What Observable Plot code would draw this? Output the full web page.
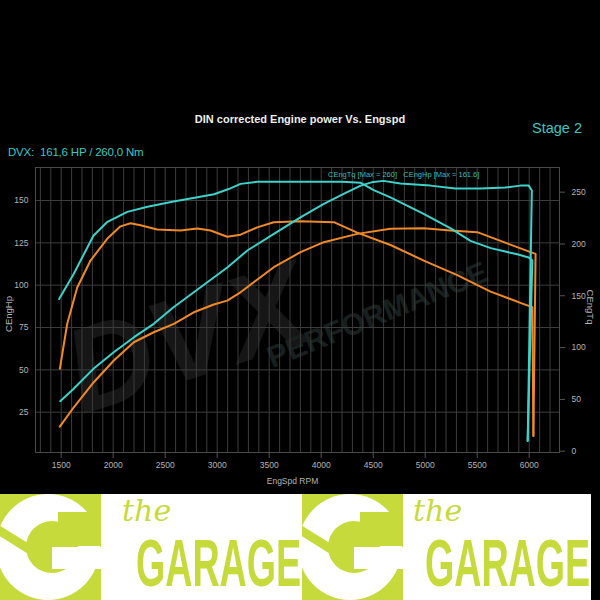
<!DOCTYPE html>
<html><head><meta charset="utf-8">
<script src="https://cdn.jsdelivr.net/npm/d3@7"></script>
<script src="https://cdn.jsdelivr.net/npm/@observablehq/plot@0.6"></script>
<style>
html,body{margin:0;padding:0;background:#000;}
body{width:600px;height:600px;position:relative;overflow:hidden;font-family:"Liberation Sans",Arial,sans-serif;}
.abs{position:absolute;white-space:nowrap;}
#title{left:0;width:600px;text-align:center;top:113px;color:#eee;font-weight:bold;font-size:11px;}
#stage{left:532px;top:120px;color:#3cc8c0;font-size:14.5px;}
#dvx{left:8px;top:146px;color:#3cc8c0;font-size:11.5px;letter-spacing:-0.2px;}
#legend{left:328px;top:170px;color:#3cbcb6;font-size:7.5px;}
#chart{left:0;top:140px;}
#banner{position:absolute;top:494px;left:0;width:591px;height:106px;background:#fff;overflow:hidden;}
.unit{position:absolute;top:0;width:302px;height:106px;}
.gblock{position:absolute;left:0;top:0;width:101px;height:106px;background:#c6da3c;overflow:hidden;}
.gblock div{position:absolute;}
.ring{left:-4px;top:0px;width:104px;height:106px;border-radius:50%;background:#fff;}
.hole{left:26px;top:27px;width:52px;height:52px;border-radius:50%;background:#c6da3c;}
.open{left:58px;top:18px;width:45px;height:34px;background:#c6da3c;}
.bar{left:52px;top:53px;width:49px;height:22px;background:#fff;}
.wrench{left:-10px;top:40px;width:44px;height:9px;background:#c6da3c;transform:rotate(32deg);}
.the{position:absolute;top:2px;font:italic 30px "DejaVu Serif";color:#c6da3c;line-height:1;}
.garage{position:absolute;top:31px;font:bold 66px "Liberation Sans";color:#c6da3c;line-height:76px;transform:scaleX(0.57);transform-origin:left top;}
</style></head><body>
<div class="abs" id="title">DIN corrected Engine power Vs. Engspd</div>
<div class="abs" id="stage">Stage 2</div>
<div class="abs" id="dvx">DVX:&nbsp; 161,6 HP / 260,0 Nm</div>
<div class="abs" id="chart"></div>
<div class="abs" id="legend">CEngTq [Max = 260]&nbsp;&nbsp; CEngHp [Max = 161.6]</div>
<div id="banner">
  <div class="unit" style="left:0px"><div class="gblock"><div class="ring"></div><div class="hole"></div><div class="open"></div><div class="bar"></div><div class="wrench"></div></div><div class="the" style="left:122px">the</div><div class="garage" style="left:136px">GARAGE</div></div>
  <div class="unit" style="left:302px"><div class="gblock"><div class="ring"></div><div class="hole"></div><div class="open"></div><div class="bar"></div><div class="wrench"></div></div><div class="the" style="left:111px">the</div><div class="garage" style="left:123px">GARAGE</div></div>
</div>
<script>
// ---- data ----
const stage2TorqueRpm = [1480, 1620, 1810, 1940, 2135, 2330, 2580, 2810, 2970, 3110, 3225, 3385, 3600, 3800, 4000, 4200, 4380, 4505, 4665, 4985, 5245, 5435, 5630, 5885, 5995, 6030, 5985];
const stage2TorqueNm  = [147, 171, 208, 221, 231, 236, 241, 245, 248, 253, 258, 260, 260, 260, 260, 260, 259, 252, 245, 229, 215, 203, 196, 190, 187, 184, 10];
const stage2PowerRpm  = [1490, 1620, 1810, 2005, 2200, 2390, 2580, 2840, 3100, 3290, 3545, 3800, 4025, 4215, 4380, 4500, 4600, 4760, 5050, 5290, 5530, 5770, 5915, 5995, 6025, 5985];
const stage2PowerHp   = [31.5, 38.8, 50.6, 60.4, 69.3, 77.2, 87.0, 98.8, 110.6, 120.5, 130.3, 140.1, 148.0, 153.9, 158.8, 161.0, 161.6, 160.0, 158.8, 157.1, 157.1, 157.7, 158.8, 158.8, 155.9, 8];
const stockTorqueRpm  = [1487, 1558, 1654, 1782, 1942, 2070, 2166, 2263, 2423, 2647, 2808, 2936, 3096, 3224, 3385, 3544, 3801, 4121, 4346, 4666, 4986, 5308, 5628, 5948, 6030, 6040];
const stockTorqueNm   = [79.5, 123, 158, 184, 205, 217, 220, 218, 214, 213, 215, 213, 207, 209, 216, 221, 222, 221, 211, 199, 184, 170, 154, 142, 139, 15];
const stockPowerRpm   = [1487, 1621, 1813, 2006, 2198, 2390, 2583, 2775, 2967, 3096, 3224, 3288, 3544, 3801, 4025, 4346, 4666, 4986, 5243, 5500, 5756, 6013, 6061, 6040];
const stockPowerHp    = [16.5, 27.9, 42.7, 55.5, 66.3, 72.2, 77.2, 84.0, 88.6, 90.9, 95.8, 98.8, 110.6, 119.5, 125.4, 130.3, 133.3, 133.6, 132.3, 131.3, 125.4, 119.5, 118.5, 11];

const xTicks = [1500, 2000, 2500, 3000, 3500, 4000, 4500, 5000, 5500, 6000];
const hpTicks = [25, 50, 75, 100, 125, 150];
const tqTicks = [0, 50, 100, 150, 200, 250];
const xDomain = [1253, 6291];
const hpDomain = [1.2, 169.5];
const tqDomain = [-1.25, 273.8];

const cyan = "#3dd2ca", orange = "#f08a28";
const tq2hp = n => hpDomain[0] + (n - tqDomain[0]) * (hpDomain[1] - hpDomain[0]) / (tqDomain[1] - tqDomain[0]);
const hp2tq = h => tqDomain[0] + (h - hpDomain[0]) * (tqDomain[1] - tqDomain[0]) / (hpDomain[1] - hpDomain[0]);

const mk = (rpm, vals, f) => rpm.map((r, i) => ({rpm: r, v: f ? f(vals[i]) : vals[i]}));
const s2tq = mk(stage2TorqueRpm, stage2TorqueNm, tq2hp);
const s2hp = mk(stage2PowerRpm, stage2PowerHp);
const sttq = mk(stockTorqueRpm, stockTorqueNm, tq2hp);
const sthp = mk(stockPowerRpm, stockPowerHp);

const grid = "#3d3d3d";
const chart = Plot.plot({
  width: 600, height: 350,
  marginTop: 27, marginBottom: 38, marginLeft: 35, marginRight: 41,
  style: {background: "transparent", color: "#b4b4b4", fontFamily: "Liberation Sans, Arial, sans-serif", fontSize: "8.5px"},
  x: {domain: xDomain},
  y: {domain: hpDomain},
  marks: [
    Plot.text(["DVX"], {frameAnchor: "middle", dx: -110, dy: 30, rotate: -18, fontSize: 120, fontWeight: "bold", fontStyle: "italic", fill: "#161616"}),
    Plot.text(["PERFORMANCE"], {frameAnchor: "middle", dx: 80, dy: 5, rotate: -22, fontSize: 30, fontWeight: "bold", fill: "#17201f"}),
    Plot.gridX(d3.range(1300, 6300, 100), {stroke: grid, strokeOpacity: 1}),
    Plot.gridY(hpTicks, {stroke: grid, strokeOpacity: 1}),
    Plot.frame({stroke: "#4a4a4a"}),
    Plot.axisX(xTicks, {tickSize: 6, tickPadding: 3, stroke: "#555", tickFormat: d => String(d), label: null}),
    Plot.axisY(hpTicks, {anchor: "left", tickSize: 0, tickPadding: 7, label: null}),
    Plot.axisY(tqTicks.map(tq2hp), {anchor: "right", tickSize: 5, tickPadding: 7, stroke: "#555", tickFormat: d => String(Math.round(hp2tq(d))), label: null}),
    Plot.text(["EngSpd RPM"], {frameAnchor: "bottom", dx: -5, dy: 29, lineAnchor: "middle", fill: "#b4b4b4"}),
    Plot.text(["CEngHp"], {frameAnchor: "left", dx: -27, dy: 4, rotate: -90, textAnchor: "middle", fill: "#b4b4b4", fontSize: 9.5}),
    Plot.text(["CEngTq"], {frameAnchor: "right", dx: 31, dy: -3, rotate: 90, textAnchor: "middle", fill: "#b4b4b4", fontSize: 9.5}),
    Plot.line(sttq, {x: "rpm", y: "v", stroke: orange, strokeWidth: 2}),
    Plot.line(sthp, {x: "rpm", y: "v", stroke: orange, strokeWidth: 2}),
    Plot.line(s2tq, {x: "rpm", y: "v", stroke: cyan, strokeWidth: 2}),
    Plot.line(s2hp, {x: "rpm", y: "v", stroke: cyan, strokeWidth: 2})
  ]
});
document.getElementById("chart").appendChild(chart);
</script>
</body></html>
